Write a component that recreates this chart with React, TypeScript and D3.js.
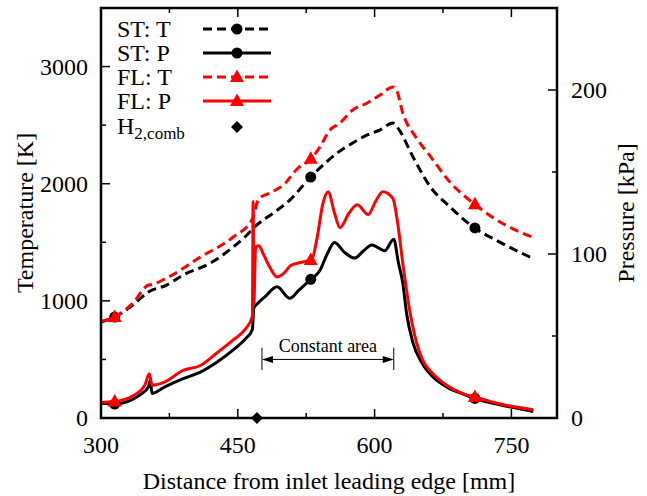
import React, { useEffect, useRef } from 'react';
import * as d3 from 'd3';

const W = 647;
const H = 496;

// ST: T (black dashed)
const stTx = [300, 315, 335, 352, 372, 390, 420, 445, 460, 471, 489, 507, 529, 545, 559, 576, 592, 606, 620, 626, 642, 661, 683, 708, 734, 774];
const stTy = [820, 862, 965, 1076, 1135, 1221, 1323, 1460, 1562, 1648, 1750, 1860, 2049, 2170, 2262, 2348, 2416, 2459, 2518, 2470, 2230, 1975, 1800, 1631, 1515, 1360];

// FL: T (red dashed)
const flTx = [300, 315, 335, 352, 356, 372, 409, 445, 466, 473, 485, 500, 516, 529, 540, 551, 562, 576, 592, 606, 620, 624, 631, 645, 661, 683, 708, 734, 774];
const flTy = [825, 862, 982, 1135, 1140, 1195, 1374, 1545, 1700, 1870, 1921, 1989, 2134, 2203, 2313, 2459, 2518, 2629, 2689, 2757, 2826, 2800, 2600, 2400, 2235, 2010, 1835, 1690, 1540];

// ST: P (black solid)
const stPx = [300, 315, 335, 345, 352, 354, 356, 370, 390, 409, 427, 445, 458, 466, 467.5, 472, 480, 493, 507, 517, 529, 540, 548, 556, 567, 578, 588, 597, 611, 621, 626, 631, 635, 642, 652, 664, 679, 700, 708, 734, 774];
const stPy = [9, 8.5, 11.5, 15, 19, 23, 15, 19, 24, 28, 34, 41.5, 48, 54, 67, 70, 74, 80, 73, 78, 84, 90, 100, 107, 101, 97.5, 102, 105.5, 102, 109, 95, 82, 64, 46, 33.5, 25, 19, 14, 12.2, 8.5, 4];

// FL: P (red solid)
const flPx = [300, 315, 335, 348, 353, 356, 370, 390, 409, 427, 445, 458, 466, 466.8, 467.6, 469.5, 473, 478, 485, 493, 500, 508, 520, 531, 537, 543, 549, 556, 562, 572, 581, 593, 601, 609, 620, 625, 631, 639, 646, 653, 664, 679, 696, 710, 734, 774];
const flPy = [9.5, 10, 13.5, 20, 27, 20, 22, 29, 32, 39.6, 47.6, 54, 62, 132, 70, 104, 105, 100, 92, 86, 88, 93, 95, 96.5, 110, 130, 138, 125, 116, 125, 130, 124, 132, 138, 134, 120, 94, 64, 46, 35, 27, 20, 15, 12.8, 9, 5];

const markerX = [315, 530, 710];
const h2comb = [471];
const constantArea = [476.5, 621];

const xMajor = [300, 450, 600, 750];
const xMinor = [375, 525, 675];
const tMajor = [0, 1000, 2000, 3000];
const tMinor = [500, 1500, 2500];
const pMajor = [0, 100, 200];
const pMinor = [50, 150];

const legendLabels = ['ST: T', 'ST: P', 'FL: T', 'FL: P'];

export default function App() {
  const ref = useRef<SVGSVGElement>(null);
  useEffect(() => {
    const svg = d3.select(ref.current);
    svg.selectAll('*').remove();
    const font = "'Liberation Serif', 'Times New Roman', serif";
    const fs = 24;
    const L = 101, R = 557, T = 8, B = 418;
    const x = d3.scaleLinear().domain([300, 800]).range([L, R]);
    const yT = d3.scaleLinear().domain([0, 3500]).range([B, T]);
    const yP = d3.scaleLinear().domain([0, 250]).range([B, T]);

    const interp = (xs: number[], ys: number[], v: number) => {
      for (let i = 0; i < xs.length - 1; i++) {
        if (v >= xs[i] && v <= xs[i + 1]) {
          const t = (v - xs[i]) / (xs[i + 1] - xs[i]);
          return ys[i] + t * (ys[i + 1] - ys[i]);
        }
      }
      return ys[ys.length - 1];
    };

    const g = svg.append('g');
    const series = [
      { xs: stTx, ys: stTy, y: yT, color: '#000', dash: '9,5', marker: 'circle' },
      { xs: stPx, ys: stPy, y: yP, color: '#000', dash: null, marker: 'circle' },
      { xs: flTx, ys: flTy, y: yT, color: '#ff0000', dash: '9,5', marker: 'tri' },
      { xs: flPx, ys: flPy, y: yP, color: '#ff0000', dash: null, marker: 'tri' },
    ];

    const drawMarker = (sel: any, kind: string, cx: number, cy: number, color: string) => {
      if (kind === 'circle') {
        sel.append('circle').attr('cx', cx).attr('cy', cy).attr('r', 5.5).attr('fill', color);
      } else if (kind === 'tri') {
        sel.append('path').attr('d', `M${cx},${cy - 7.5} L${cx + 7},${cy + 5} L${cx - 7},${cy + 5} Z`).attr('fill', color);
      } else if (kind === 'diamond') {
        sel.append('path').attr('d', `M${cx},${cy - 6} L${cx + 6},${cy} L${cx},${cy + 6} L${cx - 6},${cy} Z`).attr('fill', color);
      }
    };

    series.forEach(s => {
      const pts = s.xs.map((v, i) => [v, s.ys[i]] as [number, number]);
      const line = d3.line<[number, number]>().x(d => x(d[0])).y(d => s.y(d[1])).curve(d3.curveMonotoneX);
      const p = g.append('path').attr('d', line(pts)).attr('fill', 'none').attr('stroke', s.color)
        .attr('stroke-width', 3).attr('stroke-linejoin', 'round');
      if (s.dash) p.attr('stroke-dasharray', s.dash);
      markerX.forEach(mx => drawMarker(g, s.marker, x(mx), s.y(interp(s.xs, s.ys, mx)), s.color));
    });

    // H2 comb marker
    h2comb.forEach(v => drawMarker(g, 'diamond', x(v), yT(0), '#000'));

    // Constant area annotation
    const ay = yT(500);
    const ax0 = x(constantArea[0]), ax1 = x(constantArea[1]);
    const ann = svg.append('g');
    ann.append('line').attr('x1', ax0).attr('x2', ax0).attr('y1', yT(600)).attr('y2', yT(410)).attr('stroke', '#000').attr('stroke-width', 1);
    ann.append('line').attr('x1', ax1).attr('x2', ax1).attr('y1', yT(600)).attr('y2', yT(410)).attr('stroke', '#000').attr('stroke-width', 1);
    ann.append('line').attr('x1', ax0 + 8).attr('x2', ax1 - 8).attr('y1', ay).attr('y2', ay).attr('stroke', '#000').attr('stroke-width', 1);
    ann.append('path').attr('d', `M${ax0},${ay} L${ax0 + 11},${ay - 3.5} L${ax0 + 11},${ay + 3.5} Z`).attr('fill', '#000');
    ann.append('path').attr('d', `M${ax1},${ay} L${ax1 - 11},${ay - 3.5} L${ax1 - 11},${ay + 3.5} Z`).attr('fill', '#000');
    ann.append('text').attr('x', (ax0 + ax1) / 2).attr('y', yT(560)).attr('text-anchor', 'middle')
      .attr('font-family', font).attr('font-size', 18).text('Constant area');

    // Frame & ticks
    const ax = svg.append('g').attr('stroke', '#000').attr('stroke-width', 1.5);
    xMajor.concat(xMinor).forEach(v => {
      const len = xMajor.includes(v) ? 9 : 5;
      ax.append('line').attr('x1', x(v)).attr('x2', x(v)).attr('y1', B).attr('y2', B - len);
      ax.append('line').attr('x1', x(v)).attr('x2', x(v)).attr('y1', T).attr('y2', T + len);
    });
    tMajor.concat(tMinor).forEach(v => {
      const len = tMajor.includes(v) ? 9 : 5;
      ax.append('line').attr('x1', L).attr('x2', L + len).attr('y1', yT(v)).attr('y2', yT(v));
    });
    pMajor.concat(pMinor).forEach(v => {
      const len = pMajor.includes(v) ? 9 : 5;
      ax.append('line').attr('x1', R).attr('x2', R - len).attr('y1', yP(v)).attr('y2', yP(v));
    });
    svg.append('rect').attr('x', L).attr('y', T).attr('width', R - L).attr('height', B - T)
      .attr('fill', 'none').attr('stroke', '#000').attr('stroke-width', 2.5);

    const txt = svg.append('g').attr('font-family', font).attr('font-size', fs).attr('fill', '#000');
    xMajor.forEach(v => txt.append('text').attr('x', x(v)).attr('y', 453).attr('text-anchor', 'middle').text(String(v)));
    tMajor.forEach(v => txt.append('text').attr('x', L - 13).attr('y', yT(v) + 8).attr('text-anchor', 'end').text(String(v)));
    pMajor.forEach(v => txt.append('text').attr('x', R + 14).attr('y', yP(v) + 8).attr('text-anchor', 'start').text(String(v)));
    txt.append('text').attr('x', (L + R) / 2).attr('y', 489).attr('text-anchor', 'middle').text('Distance from inlet leading edge [mm]');
    txt.append('text').attr('transform', `translate(33,${(T + B) / 2}) rotate(-90)`).attr('text-anchor', 'middle').text('Temperature [K]');
    txt.append('text').attr('transform', `translate(634,${(T + B) / 2}) rotate(-90)`).attr('text-anchor', 'middle').text('Pressure [kPa]');

    // Legend
    const leg = svg.append('g');
    const rows = [29, 53, 77, 101];
    series.forEach((s, i) => {
      const ry = rows[i];
      leg.append('text').attr('x', 117).attr('y', ry + 8).attr('font-family', font).attr('font-size', fs).text(legendLabels[i]);
      const l = leg.append('line').attr('x1', 203).attr('x2', 271).attr('y1', ry).attr('y2', ry)
        .attr('stroke', s.color).attr('stroke-width', 3);
      if (s.dash) l.attr('stroke-dasharray', s.dash);
      drawMarker(leg, s.marker, 237, ry, s.color);
    });
    const ht = leg.append('text').attr('x', 117).attr('y', 134).attr('font-family', font).attr('font-size', fs);
    ht.append('tspan').text('H');
    ht.append('tspan').attr('font-size', 17).attr('dy', 5).text('2,comb');
    drawMarker(leg, 'diamond', 237, 127, '#000');
  }, []);
  return <svg ref={ref} width={W} height={H} style={{ position: 'absolute', left: 0, top: 0, background: '#fff' }} />;
}
